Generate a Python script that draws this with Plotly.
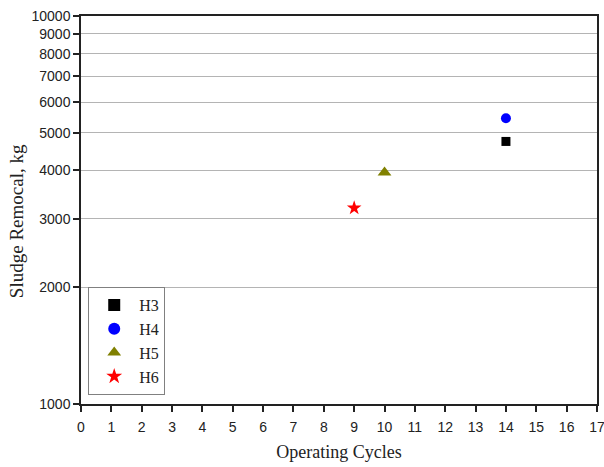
import plotly.graph_objects as go

series_names = ["H3", "H4", "H5", "H6"]
cycles = [14, 14, 10, 9]
sludge = [4750, 5450, 3950, 3200]
colors = ["black", "blue", "olive", "red"]
symbols = ["square", "circle", "triangle-up", "star"]
sizes = [9, 10, 12, 11]

y_ticks = [1000, 2000, 3000, 4000, 5000, 6000, 7000, 8000, 9000, 10000]
x_ticks = list(range(0, 18))

fig = go.Figure()
for n, x, y, c, s, sz in zip(series_names, cycles, sludge, colors, symbols, sizes):
    fig.add_trace(go.Scatter(x=[x], y=[y], mode="markers", name=n,
                             marker=dict(color=c, symbol=s, size=sz, line=dict(width=0))))

fig.add_annotation(text="Sludge Remocal, kg", textangle=-90, xref="paper", yref="paper",
                   x=-0.125, y=0.47, xanchor="center", yanchor="middle", showarrow=False,
                   font=dict(family="Liberation Serif", size=19, color="#222"))

fig.update_layout(
    width=604, height=467,
    margin=dict(l=81, r=7, t=16, b=63, autoexpand=False),
    paper_bgcolor="white", plot_bgcolor="white",
    showlegend=True,
    legend=dict(x=0.014, y=0.023, xanchor="left", yanchor="bottom",
                bordercolor="#808080", borderwidth=1, bgcolor="white",
                font=dict(family="Liberation Serif", size=16, color="#222"),
                itemsizing="constant", tracegroupgap=0, itemwidth=40),
    xaxis=dict(range=[0, 17], tickvals=x_ticks, ticks="outside", ticklen=6,
               showgrid=False, zeroline=False, showline=True, linecolor="#222", linewidth=1.5,
               mirror=True, tickcolor="#222", tickwidth=1.5, automargin=False,
               ticklabeloverflow="allow", ticklabelstandoff=3,
               tickfont=dict(family="Liberation Sans", size=14, color="#222"),
               title=dict(text="Operating Cycles", font=dict(family="Liberation Serif", size=18, color="#222"), standoff=12)),
    yaxis=dict(type="log", range=[3, 4], tickvals=y_ticks, ticktext=[str(v) for v in y_ticks],
               ticks="outside", ticklen=6, showgrid=True, gridcolor="#b4b4b4", gridwidth=1,
               zeroline=False, showline=True, linecolor="#222", linewidth=1.5, mirror=True,
               tickcolor="#222", tickwidth=1.5, automargin=False, ticklabeloverflow="allow",
               tickfont=dict(family="Liberation Sans", size=14, color="#222")),
)

fig.write_html("out.html")
